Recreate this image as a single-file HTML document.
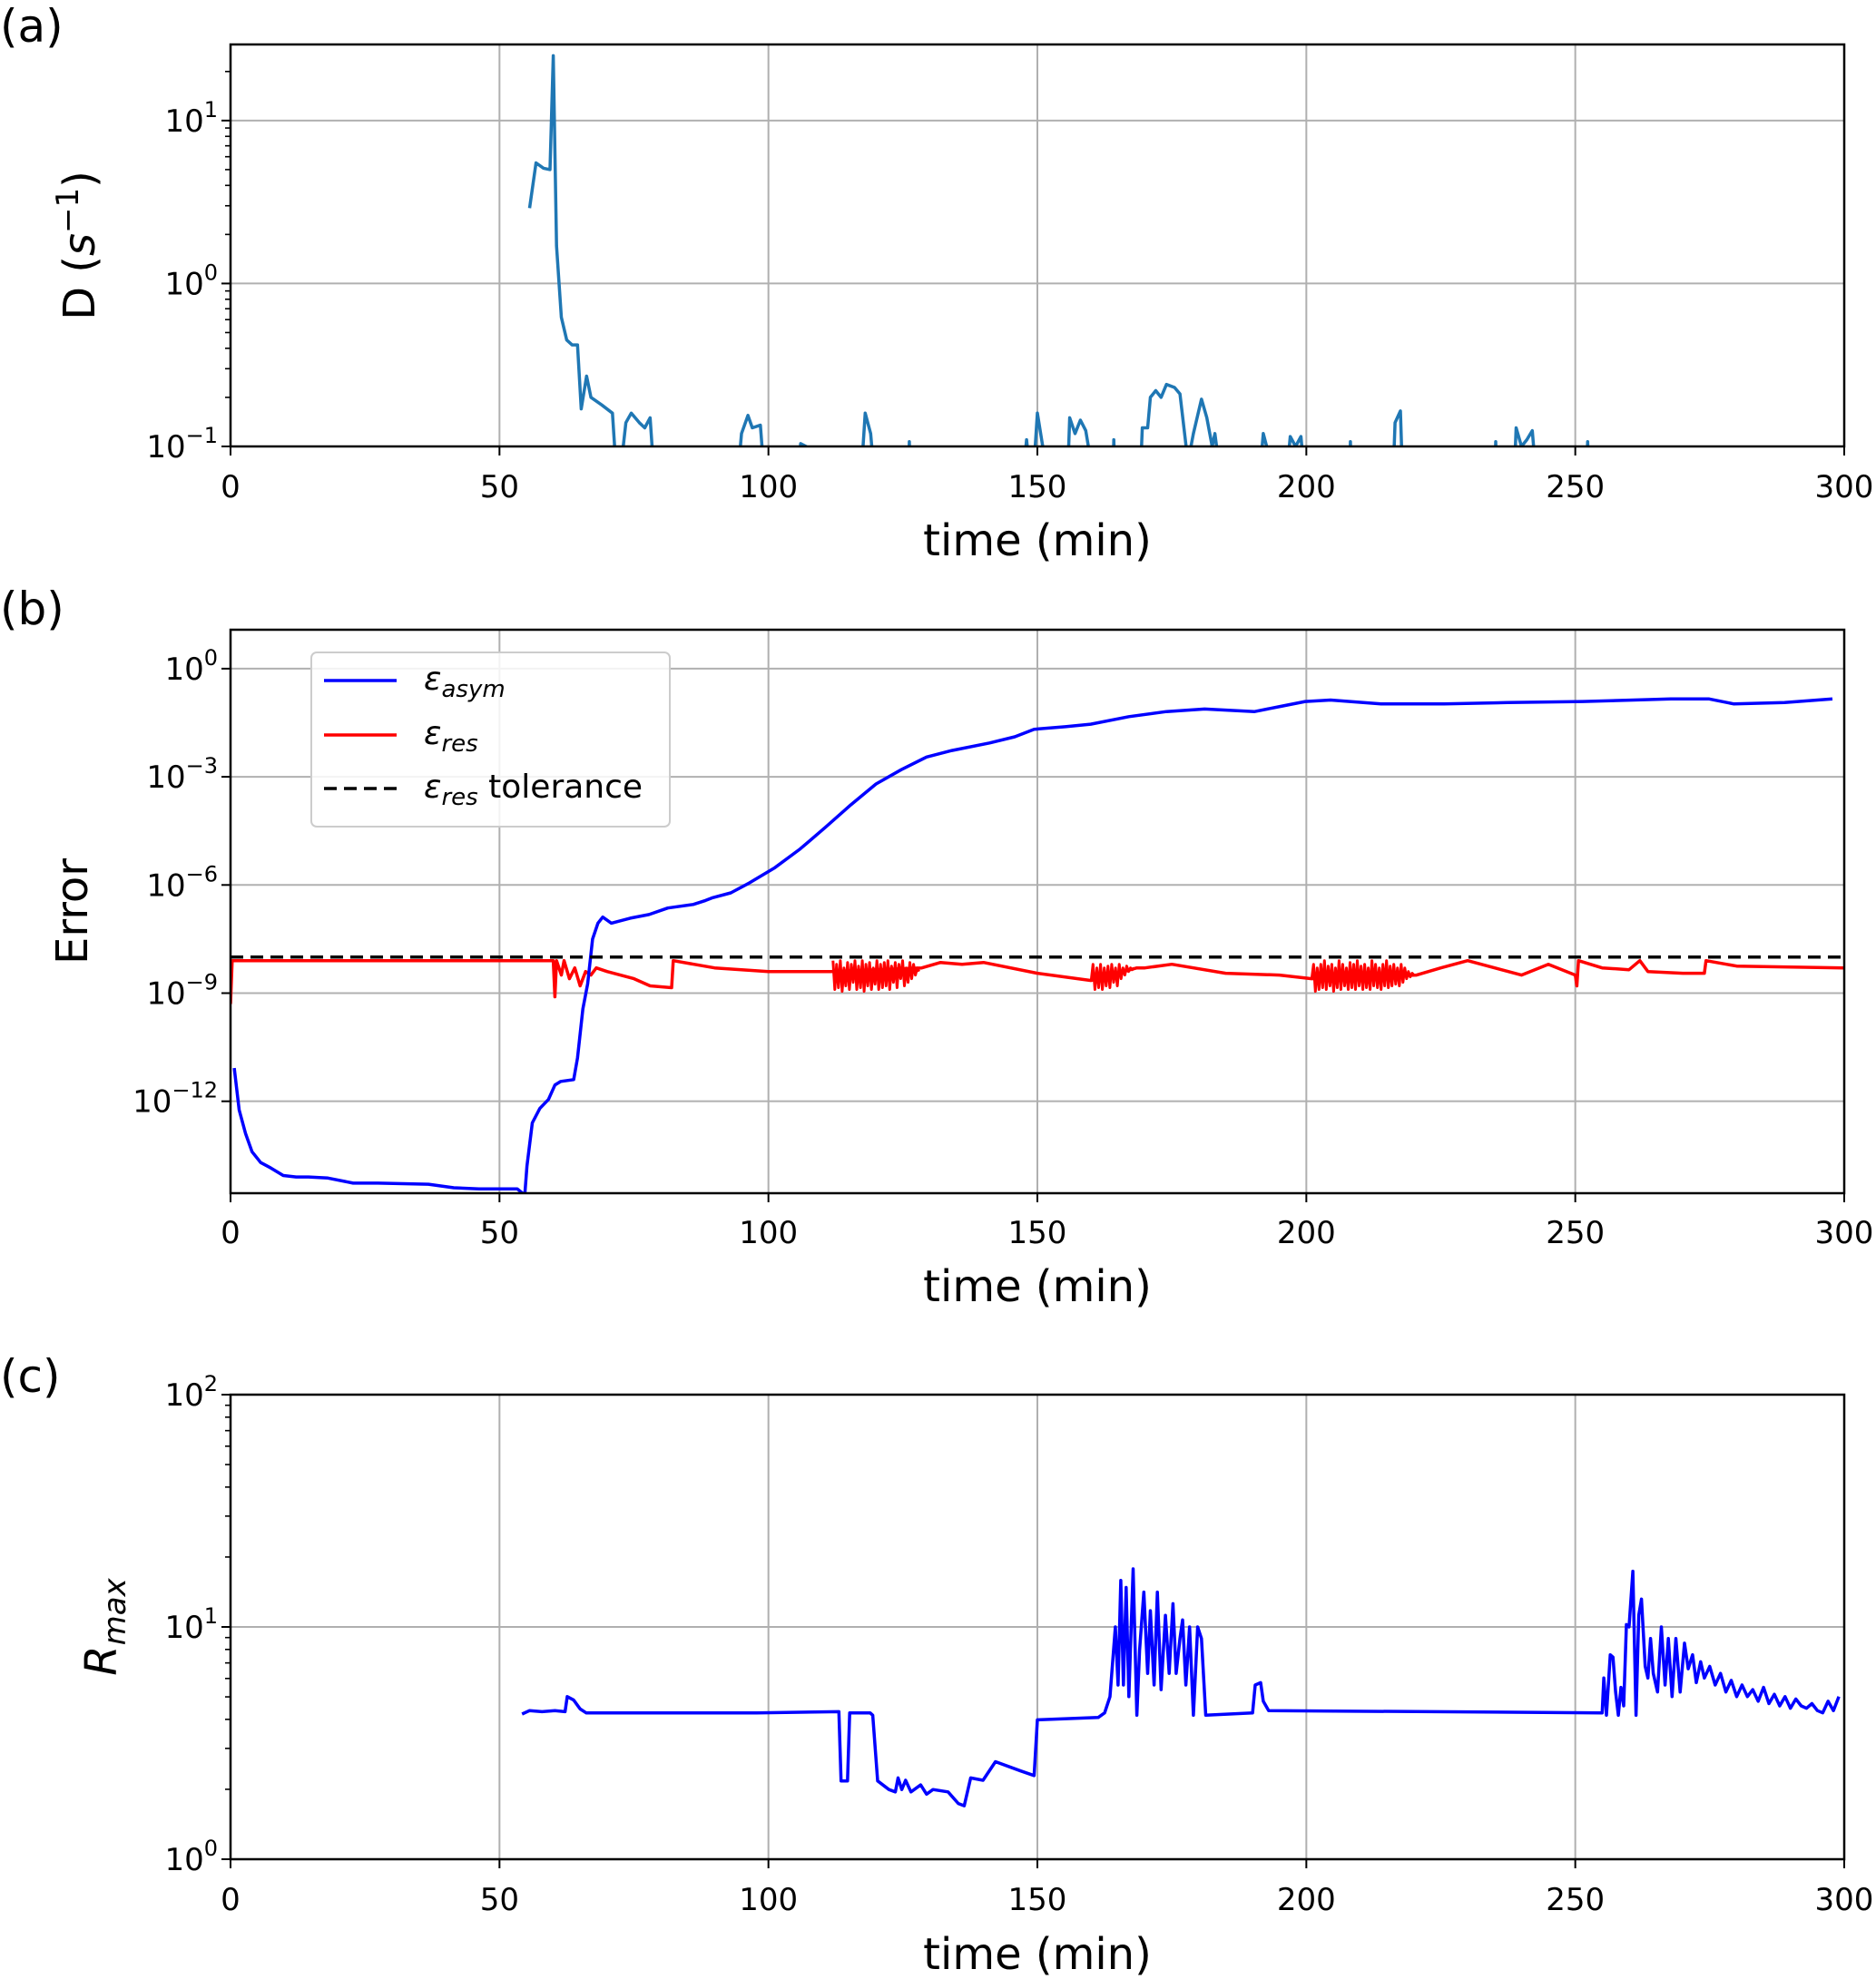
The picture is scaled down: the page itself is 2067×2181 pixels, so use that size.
<!DOCTYPE html>
<html><head><meta charset="utf-8"><style>
html,body{margin:0;padding:0;background:#fff}
svg{display:block;font-family:"DejaVu Sans","Liberation Sans",sans-serif}
</style></head><body>
<svg id="fig" width="2067" height="2181" viewBox="0 0 2067 2181" xmlns="http://www.w3.org/2000/svg">
<text x="0" y="46" font-size="50">(a)</text>
<text x="0" y="688" font-size="50">(b)</text>
<text x="0" y="1534" font-size="50">(c)</text>
</svg>
<script>
// ---- data ----
const xTicks=[0,50,100,150,200,250,300];
const aTime=[55.6,56.8,58.2,59.4,60.0,60.6,61.5,62.5,63.5,64.5,65.2,66.2,67,69,71,72,73.5,74.5,76,77,78,79,94,95,96.2,97,98.5,99.5,105,106,107,117,118,119,120,126,126.2,126.4,147,148,149,150,151,152,155.5,156,157,158,159,161,164,164.2,164.5,169,169.5,170.5,171,172,173,174,175.5,176.5,178,179,180.5,181.5,182.5,183,184.5,191,192,193,196,197,198,199,200,208,208.2,208.4,216,216.5,217.5,218,235,235.2,235.4,238.5,239,240,241,242,243,252,252.3,252.6];
const aD=[2.9,5.5,5.1,5.0,25,1.7,0.62,0.45,0.42,0.42,0.17,0.27,0.2,0.18,0.16,0.05,0.14,0.16,0.14,0.13,0.15,0.05,0.05,0.12,0.155,0.13,0.135,0.05,0.05,0.104,0.1,0.05,0.16,0.12,0.05,0.05,0.107,0.05,0.05,0.11,0.05,0.16,0.1,0.05,0.05,0.15,0.12,0.145,0.125,0.05,0.05,0.11,0.05,0.05,0.13,0.13,0.2,0.22,0.2,0.24,0.23,0.21,0.08,0.12,0.195,0.15,0.1,0.12,0.05,0.05,0.12,0.09,0.05,0.115,0.1,0.115,0.05,0.05,0.107,0.05,0.05,0.14,0.165,0.05,0.05,0.107,0.05,0.05,0.13,0.1,0.11,0.125,0.05,0.05,0.107,0.05];
const aTickVals=[-1,0,1];
const bAsymTime=[0.7,1.6,2.8,4.0,5.6,7.5,9.8,12.2,14.5,18.1,22.8,27.4,36.8,41.5,46.2,53.3,54.7,55.1,56.1,57.5,59.1,60.3,61.4,63.8,64.5,65.5,66.4,67.3,68.3,69.2,70.8,74.3,77.8,81.3,86.0,88.3,89.5,93.0,96.5,101.2,105.9,110.6,115.3,120.0,124.7,129.4,134.1,141.1,145.8,149.4,155.2,159.9,167.0,174.0,181.1,190.4,195.1,199.8,204.5,213.9,225.6,237.4,251.4,260.8,267.8,274.9,279.5,288.9,297.8];
const bAsymLog=[-11.08,-12.24,-12.9,-13.4,-13.7,-13.85,-14.06,-14.1,-14.1,-14.13,-14.27,-14.27,-14.3,-14.4,-14.43,-14.43,-14.6,-13.8,-12.6,-12.2,-11.95,-11.55,-11.45,-11.4,-10.8,-9.44,-8.74,-7.5,-7.06,-6.89,-7.06,-6.92,-6.82,-6.64,-6.54,-6.43,-6.36,-6.22,-5.94,-5.52,-5.0,-4.4,-3.78,-3.2,-2.8,-2.45,-2.27,-2.06,-1.89,-1.68,-1.61,-1.54,-1.33,-1.19,-1.12,-1.19,-1.05,-0.91,-0.87,-0.98,-0.98,-0.94,-0.91,-0.87,-0.84,-0.84,-0.98,-0.94,-0.84];
const bResTime=[0,0.3,60,60.3,60.6,61.5,62,63,64,65,66,67,68,70,75,78,82,82.3,90,100,111.5,128.5,132,136,140,150,160,168.5,170,175,185,195,201,220.5,225,230,240,245,250,250.3,250.6,255,260,262,263.5,270,274,274.3,280,300];
const bResLog=[-9.3,-8.1,-8.1,-9.1,-8.1,-8.5,-8.1,-8.6,-8.3,-8.8,-8.4,-8.5,-8.3,-8.4,-8.6,-8.8,-8.85,-8.1,-8.3,-8.4,-8.4,-8.3,-8.15,-8.2,-8.15,-8.45,-8.65,-8.3,-8.3,-8.2,-8.45,-8.5,-8.6,-8.5,-8.3,-8.1,-8.5,-8.2,-8.5,-8.8,-8.1,-8.3,-8.35,-8.1,-8.4,-8.45,-8.45,-8.1,-8.25,-8.3];
const burstStart=[112,160,201];
const burstEnd=[128,168,220];
const burst1=[-8.1,-8.9,-8.2,-8.85,-8.1,-8.95,-8.3,-8.8,-8.15,-8.9,-8.2,-8.7,-8.1,-8.9,-8.25,-8.85,-8.1,-8.95,-8.2,-8.8,-8.15,-8.9,-8.3,-8.75,-8.1,-8.9,-8.2,-8.85,-8.15,-8.8,-8.1,-8.9,-8.25,-8.7,-8.15,-8.85,-8.2,-8.6,-8.1,-8.8,-8.3,-8.7,-8.15,-8.6,-8.2,-8.5,-8.3,-8.4];
const burst2=[-8.65,-8.2,-8.9,-8.3,-8.85,-8.2,-8.9,-8.3,-8.8,-8.25,-8.85,-8.2,-8.7,-8.3,-8.8,-8.2,-8.6,-8.3,-8.5,-8.25,-8.4,-8.3,-8.35,-8.3];
const burst3=[-8.6,-8.2,-8.95,-8.3,-8.9,-8.2,-8.85,-8.1,-8.9,-8.25,-8.8,-8.2,-8.95,-8.3,-8.85,-8.1,-8.9,-8.2,-8.8,-8.3,-8.9,-8.15,-8.85,-8.2,-8.9,-8.1,-8.8,-8.25,-8.9,-8.2,-8.85,-8.3,-8.9,-8.1,-8.8,-8.2,-8.85,-8.3,-8.9,-8.2,-8.8,-8.1,-8.85,-8.25,-8.8,-8.2,-8.75,-8.3,-8.8,-8.2,-8.7,-8.3,-8.6,-8.4,-8.55,-8.45,-8.5];
const bTolLog=-8.0;
const bTickVals=[-12,-9,-6,-3,0];
const cTime=[54.2,55.6,57.9,60.3,62.2,62.6,63.8,65.0,66.1,69.6,74.3,97.8,113.1,113.5,114.7,115.1,118.9,119.4,120.3,122.4,123.6,124.1,124.8,125.5,126.5,128.3,129.4,130.6,133.4,135.3,136.4,137.6,139.9,142.2,146.9,149.4,150.0,161.3,162.5,163.5,164.5,165,165.5,166,166.5,167,167.8,168.5,169,169.8,170.5,171,171.7,172.3,173,173.8,174.5,175.2,175.8,176.5,177,177.6,178.3,179,179.8,180.5,181.3,190,190.5,191.5,192,193,255,255.3,255.8,256.5,257,257.5,258,258.5,259,259.5,260,260.7,261.3,261.8,262.3,263,263.5,264,264.5,265.3,266,266.7,267.3,268,268.7,269.5,270.3,271,271.8,272.5,273.3,274,275,276,277,278,279,280,281,282,283,284,285,286,287,288,289,290,291,292,293,294,295,296,297,298,299];
const cLog=[0.625,0.64,0.635,0.64,0.635,0.70,0.685,0.647,0.63,0.63,0.63,0.63,0.635,0.337,0.337,0.63,0.63,0.62,0.337,0.30,0.29,0.35,0.30,0.34,0.29,0.32,0.28,0.30,0.29,0.24,0.23,0.35,0.34,0.42,0.38,0.36,0.6,0.61,0.63,0.7,1.0,0.75,1.2,0.75,1.17,0.7,1.25,0.62,0.9,1.15,0.8,1.07,0.75,1.15,0.73,1.05,0.8,1.1,0.8,0.95,1.03,0.75,1.0,0.62,1.0,0.95,0.62,0.63,0.75,0.76,0.68,0.64,0.63,0.78,0.62,0.88,0.87,0.72,0.62,0.74,0.66,1.01,1.0,1.24,0.62,1.05,1.12,0.83,0.78,0.95,0.8,0.72,1.0,0.75,0.95,0.7,0.95,0.72,0.93,0.82,0.88,0.76,0.85,0.78,0.83,0.75,0.8,0.72,0.77,0.7,0.75,0.7,0.73,0.68,0.74,0.67,0.71,0.66,0.7,0.65,0.69,0.66,0.65,0.67,0.64,0.63,0.68,0.64,0.7];
const cTickVals=[0,1,2];

// ---- drawing ----
const NS="http://www.w3.org/2000/svg";
const svg=document.getElementById('fig');
function mk(tag,attrs,parent){const e=document.createElementNS(NS,tag);for(const k in attrs)e.setAttribute(k,attrs[k]);(parent||svg).appendChild(e);return e;}
const L=254,R=2032;
function xs(t){return L+(t/300)*(R-L);}
function panel(id,T,B,ymin,ymax,yTicks,minor,xTickY,xLabY,yLabX,yLabHTML){
  const ys=v=>B-(v-ymin)/(ymax-ymin)*(B-T);
  const g=mk('g',{});
  
  
  const cp=mk('clipPath',{id:'clip'+id},g);
  mk('rect',{x:L,y:T,width:R-L,height:B-T},cp);
  xTicks.forEach(t=>{
    const gl=mk('line',{x1:xs(t),x2:xs(t),y1:T,y2:B,stroke:'#b0b0b0','stroke-width':2},g);
    
    
    mk('line',{x1:xs(t),x2:xs(t),y1:B,y2:B+10,stroke:'#000','stroke-width':2},g);
    const tl=mk('text',{x:xs(t),y:xTickY,'font-size':34,'text-anchor':'middle'},g);
    tl.textContent=t;
    
    
  });
  yTicks.forEach(v=>{
    const y=ys(v);
    if(v>ymin&&v<ymax){const gl=mk('line',{x1:L,x2:R,y1:y,y2:y,stroke:'#b0b0b0','stroke-width':2},g);
    
    }
    mk('line',{x1:L-10,x2:L,y1:y,y2:y,stroke:'#000','stroke-width':2},g);
    const tl=mk('text',{x:L-14,y:y+12,'font-size':34,'text-anchor':'end'},g);
    tl.innerHTML='10<tspan dy="-16" font-size="24">'+(v<0?'\u2212'+(-v):v)+'</tspan>';
    
    
  });
  if(minor){for(let d=Math.floor(ymin);d<ymax;d++){for(let m=2;m<10;m++){const v=d+Math.log10(m);if(v>ymin&&v<ymax){const y=ys(v);mk('line',{x1:L-6,x2:L,y1:y,y2:y,stroke:'#000','stroke-width':1.6},g);}}}}
  const xl=mk('text',{x:(L+R)/2,y:xLabY,'font-size':48,'text-anchor':'middle'},g);
  xl.textContent='time (min)';
  
  
  const yl=mk('text',{x:0,y:0,'font-size':48,'text-anchor':'middle',transform:'translate('+yLabX+','+((T+B)/2)+') rotate(-90)'},g);
  yl.innerHTML=yLabHTML;
  
  
  return {g,ys,T,B,spine:()=>{const s=mk('rect',{x:L,y:T,width:R-L,height:B-T,fill:'none',stroke:'#000','stroke-width':2.5},g);
    }};
}
function line(p,xsArr,ysArr,color,w,name,dash){
  let d='';xsArr.forEach((t,i)=>{d+=(i?'L':'M')+xs(t).toFixed(1)+','+p.ys(ysArr[i]).toFixed(1);});
  const a={d:d,fill:'none',stroke:color,'stroke-width':w,'stroke-linejoin':'round','clip-path':'url(#clip'+p.id+')'};
  if(dash)a['stroke-dasharray']=dash;
  const e=mk('path',a,p.g);
  
  
  return e;
}
// Panel a
const pa=panel('a',49,492,-1,1.467,aTickVals,true,548,612,104,'D (<tspan font-style="italic">s</tspan><tspan dy="-18" font-size="34">\u22121</tspan><tspan dy="18">)</tspan>');pa.id='a';
line(pa,aTime,aD.map(v=>Math.log10(v)),'#1f77b4',3.5,'d-series');
pa.spine();
// Panel b
const pb=panel('b',694,1315,-14.55,1.08,bTickVals,false,1370,1434,96,'Error');pb.id='b';
line(pb,bResTime,bResLog,'#ff0000',3.5,'eps-res-series');
[burst1,burst2,burst3].forEach((vals,k)=>{
  const t0=burstStart[k],t1=burstEnd[k];
  const ts=vals.map((v,i)=>t0+(t1-t0)*i/(vals.length-1));
  line(pb,ts,vals,'#ff0000',3,'eps-res-oscillation');
});
line(pb,bAsymTime,bAsymLog,'#0000ff',3.5,'eps-asym-series');
line(pb,[0,300],[bTolLog,bTolLog],'#000',3.5,'eps-res-tolerance-line','14,8');
pb.spine();
// legend
const lg=mk('g',{});


mk('rect',{x:343,y:719,width:395,height:192,rx:6,fill:'#fff','fill-opacity':0.85,stroke:'#ccc','stroke-width':2},lg);
[['#0000ff','','asym',758,'legend-entry-asym'],['#ff0000','','res',818,'legend-entry-res'],['#000','14,8','res',877,'legend-entry-tolerance']].forEach((e,i)=>{
  const a={x1:357,x2:437,y1:e[3]-8,y2:e[3]-8,stroke:e[0],'stroke-width':3.5};if(e[1])a['stroke-dasharray']=e[1];
  mk('line',a,lg);
  const t=mk('text',{x:467,y:e[3]+2,'font-size':36},lg);
  t.innerHTML='<tspan font-style="italic">\u03b5</tspan><tspan font-style="italic" font-size="26" dy="8">'+e[2]+'</tspan>'+(i==2?'<tspan dy="-8"> tolerance</tspan>':'');
  
  
});
// Panel c
const pc=panel('c',1537,2049,0,2,cTickVals,true,2105,2170,128,'<tspan font-style="italic">R</tspan><tspan font-style="italic" font-size="34" dy="10">max</tspan>');pc.id='c';
line(pc,cTime,cLog,'#0000ff',3.5,'rmax-series');
pc.spine();
</script>
</body></html>
